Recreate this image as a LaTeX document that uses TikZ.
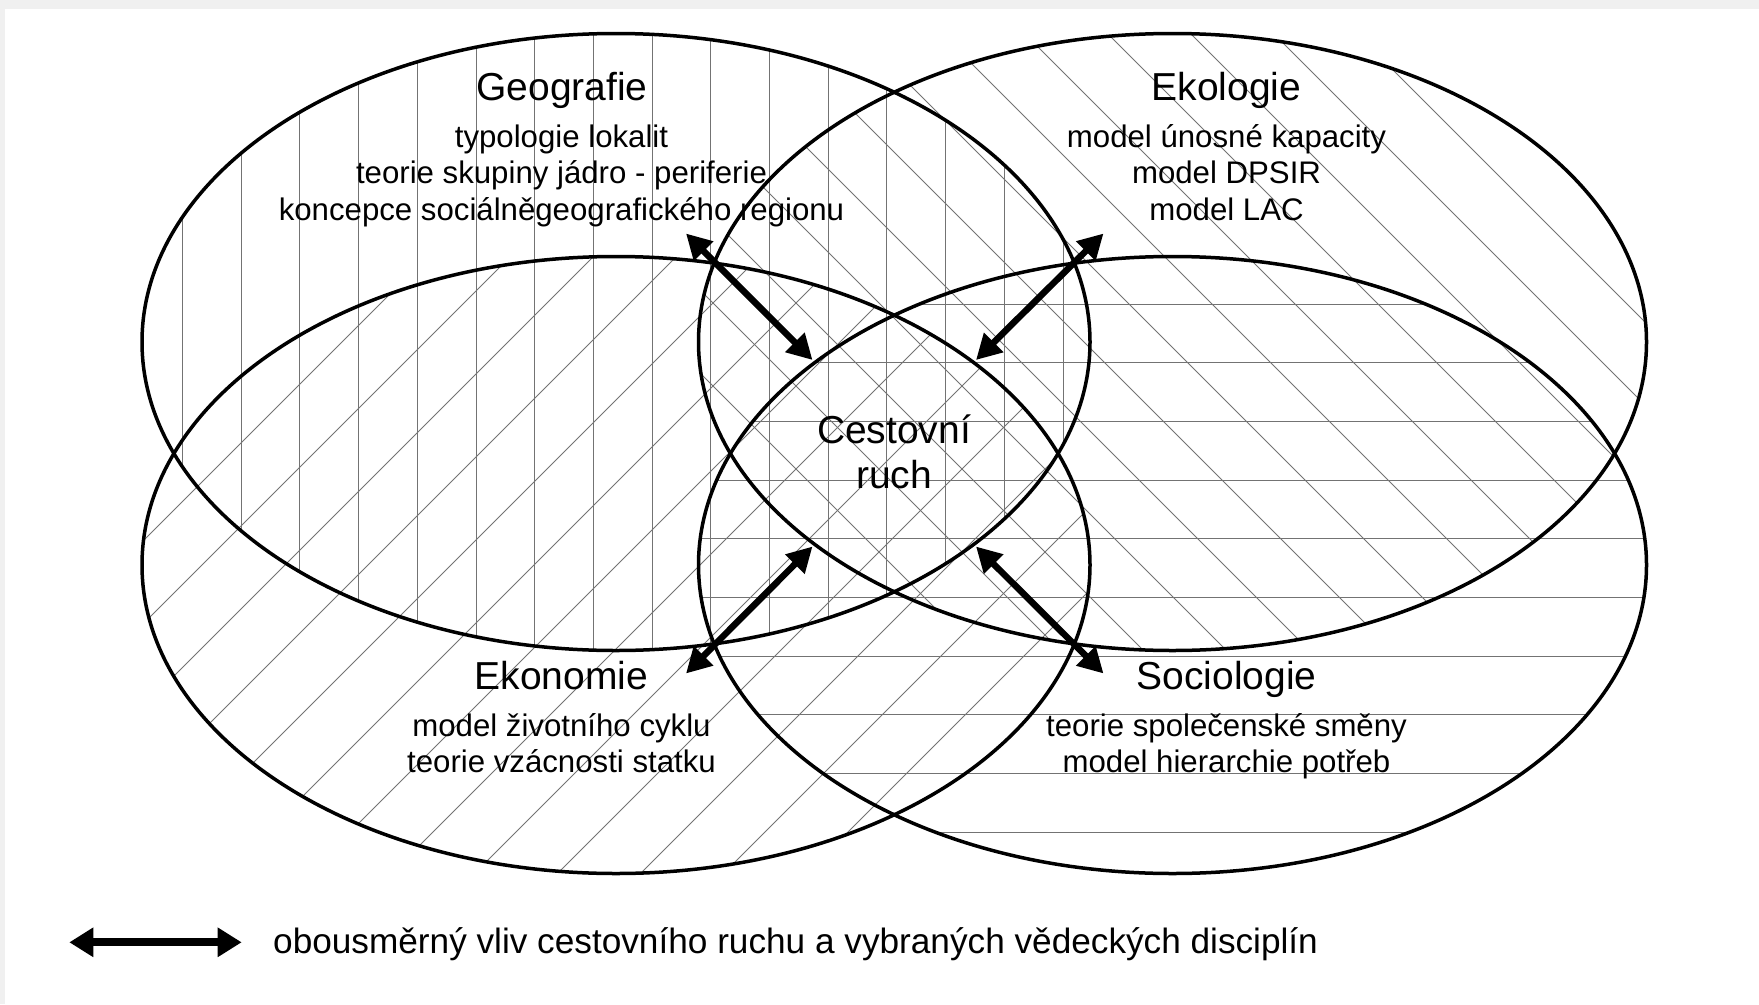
\documentclass[tikz,border=0pt]{standalone}
\usepackage{fontspec}
\setmainfont{Liberation Sans}
\usetikzlibrary{arrows.meta}
\begin{document}
\begin{tikzpicture}[x=1pt,y=-1pt,
  ring/.style={line width=3.5pt, draw=black},
  hatch/.style={line width=1pt, draw=black!55},
  infl/.style={line width=6.5pt, {Triangle[length=25pt,width=26pt]}-{Triangle[length=25pt,width=26pt]}},
  legarrow/.style={line width=8.3pt, {Triangle[length=24pt,width=28pt]}-{Triangle[length=24pt,width=28pt]}},
  ttl/.style={font=\fontsize{39}{45}\selectfont, anchor=base, inner sep=0pt},
  itm/.style={font=\fontsize{31.2}{36}\selectfont, anchor=base, inner sep=0pt},
  leg/.style={font=\fontsize{35.2}{40}\selectfont, anchor=base west, inner sep=0pt},
]
\useasboundingbox (0,0) rectangle (1759,1004);
\fill[white] (0,0) rectangle (1759,1004);
\fill[black!6] (0,0) rectangle (1759,9);
\fill[black!6] (0,0) rectangle (4.7,1004);

% Geografie hatch: vertical lines
\begin{scope}
  \clip (616,342) ellipse [x radius=474pt, y radius=308.5pt];
  \foreach \k in {0,...,16} \draw[hatch] ({182.5+58.7*\k},20) -- ({182.5+58.7*\k},670);
\end{scope}
% Ekologie hatch: falling diagonals
\begin{scope}
  \clip (1172.5,342) ellipse [x radius=474pt, y radius=308.5pt];
  \foreach \k in {-15,...,5} \draw[hatch] ({1240+83*\k},0) -- ({1240+83*\k+720},720);
\end{scope}
% Ekonomie hatch: rising diagonals
\begin{scope}
  \clip (616,565) ellipse [x radius=474pt, y radius=308.5pt];
  \foreach \k in {-7,...,14} \draw[hatch] ({850+83*\k},0) -- ({850+83*\k-1000},1000);
\end{scope}
% Sociologie hatch: horizontal lines
\begin{scope}
  \clip (1172.5,565) ellipse [x radius=474pt, y radius=308.5pt];
  \foreach \k in {0,...,10} \draw[hatch] (680,{304+58.7*\k}) -- (1660,{304+58.7*\k});
\end{scope}

% outlines
\draw[ring] (616,342) ellipse [x radius=474pt, y radius=308.5pt];
\draw[ring] (1172.5,342) ellipse [x radius=474pt, y radius=308.5pt];
\draw[ring] (616,565) ellipse [x radius=474pt, y radius=308.5pt];
\draw[ring] (1172.5,565) ellipse [x radius=474pt, y radius=308.5pt];

% texts
\node[ttl] (geo) at (562,100.5) {Geografie};
\node[itm] (geo1) at (561.5,147) {typologie lokalit};
\node[itm] (geo2) at (561.5,183.5) {teorie skupiny jádro - periferie};
\node[itm] (geo3) at (561.5,220) {koncepce sociálněgeografického regionu};

\node[ttl] (eko) at (1226.5,100.5) {Ekologie};
\node[itm] (eko1) at (1226.5,147) {model únosné kapacity};
\node[itm] (eko2) at (1226.5,183.5) {model DPSIR};
\node[itm] (eko3) at (1226.5,220) {model LAC};

\node[ttl] (ekon) at (561.5,689) {Ekonomie};
\node[itm] (ekon1) at (561.5,736.5) {model životního cyklu};
\node[itm] (ekon2) at (561.5,772.5) {teorie vzácnosti statku};

\node[ttl] (soc) at (1226.5,689) {Sociologie};
\node[itm] (soc1) at (1226.5,736.5) {teorie společenské směny};
\node[itm] (soc2) at (1226.5,772.5) {model hierarchie potřeb};

\node[ttl] (cr1) at (894,443.5) {Cestovní};
\node[ttl] (cr2) at (894,488.5) {ruch};

% arrow ends
\coordinate (a1o) at (686,233.5);   \coordinate (a1i) at (812.5,360);
\coordinate (a2o) at (1103.5,233.5); \coordinate (a2i) at (976,360);
\coordinate (a3o) at (686,673.5);   \coordinate (a3i) at (812.5,546.5);
\coordinate (a4o) at (1103.5,673.5); \coordinate (a4i) at (976,546.5);
\draw[infl] (a1o) -- (a1i);
\draw[infl] (a2o) -- (a2i);
\draw[infl] (a3o) -- (a3i);
\draw[infl] (a4o) -- (a4i);

% legend
\coordinate (lgl) at (69.3,942.3);
\coordinate (lgr) at (241.7,942.3);
\draw[legarrow] (lgl) -- (lgr);
\node[leg] (legtext) at (273,953.3) {obousměrný vliv cestovního ruchu a vybraných vědeckých disciplín};
\end{tikzpicture}
\end{document}
